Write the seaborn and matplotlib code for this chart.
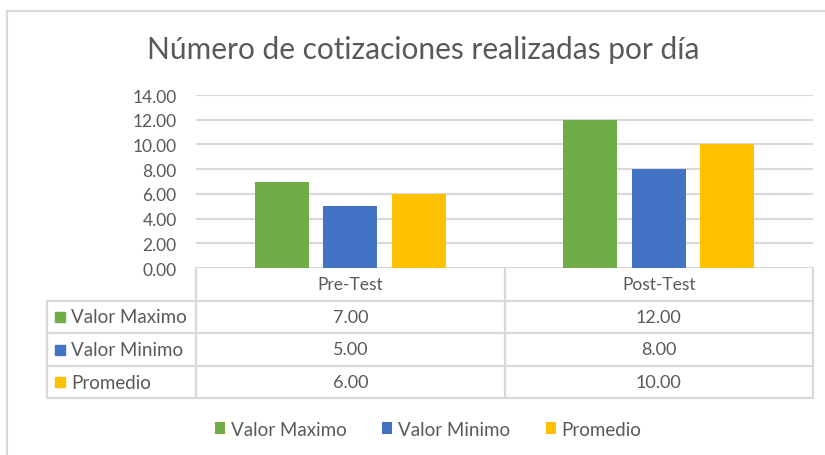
import pandas as pd
import matplotlib
matplotlib.use("Agg")
import matplotlib.pyplot as plt
import seaborn as sns
from matplotlib.lines import Line2D
from matplotlib.patches import Rectangle

# data
CATEGORIES = ["Pre-Test", "Post-Test"]
SERIES = ["Valor Maximo", "Valor Minimo", "Promedio"]
VALOR_MAXIMO = [7.00, 12.00]
VALOR_MINIMO = [5.00, 8.00]
PROMEDIO = [6.00, 10.00]
Y_TICKS = [0, 2, 4, 6, 8, 10, 12, 14]
TITLE = "Número de cotizaciones realizadas por día"

COLORS = ["#70AD47", "#4472C4", "#FFC000"]
TEXT = "#595959"
LINE = "#D9D9D9"

W, H = 825, 456


def fx(px):
    return px / W


def fy(py):
    return 1 - py / H


values = {"Valor Maximo": VALOR_MAXIMO, "Valor Minimo": VALOR_MINIMO, "Promedio": PROMEDIO}
df = pd.DataFrame(
    [{"cat": c, "serie": s, "val": values[s][i]}
     for s in SERIES for i, c in enumerate(CATEGORIES)]
)

sns.set_theme(style="white")
plt.rcParams["font.family"] = ["Lato", "DejaVu Sans"]

fig = plt.figure(figsize=(W / 100, H / 100), dpi=100)

# outer chart border
fig.add_artist(Rectangle((fx(7), fy(470)), fx(830), fy(12) - fy(470),
                         transform=fig.transFigure, fill=False,
                         edgecolor=LINE, lw=1.5))

ax_l, ax_r, ax_t, ax_b = 196, 813, 96, 269
ax = fig.add_axes([fx(ax_l), fy(ax_b), fx(ax_r - ax_l), fy(ax_t) - fy(ax_b)])

sns.barplot(data=df, x="cat", y="val", hue="serie", order=CATEGORIES,
            hue_order=SERIES, palette=COLORS, saturation=1, width=0.667,
            gap=0.21, linewidth=0, ax=ax)

ax.set_ylim(0, 14)
ax.set_xlim(-0.5, 1.5)
ax.set_yticks(Y_TICKS)
ax.set_yticklabels([f"{t:.2f}" for t in Y_TICKS], color=TEXT, fontsize=12.5)
ax.tick_params(axis="y", length=0, pad=14)
ax.set_xticks([])
ax.set_xlabel("")
ax.set_ylabel("")
ax.yaxis.grid(True, color=LINE, lw=1.5)
ax.set_axisbelow(True)
for sp in ax.spines.values():
    sp.set_visible(False)

handles, labels = ax.get_legend_handles_labels()
ax.get_legend().remove()

fig.text(fx(423), fy(50), TITLE, ha="center", va="center", fontsize=21.5,
         color=TEXT)

# data table under the axis
row_h = 32.6
lab_l = 47
col_x = [ax_l, 504.5, ax_r]
rows_y = [ax_b + row_h * k for k in range(5)]


def hline(x0, x1, y):
    fig.add_artist(Line2D([fx(x0), fx(x1)], [fy(y), fy(y)], color=LINE, lw=1.6,
                          transform=fig.transFigure))


def vline(x, y0, y1):
    fig.add_artist(Line2D([fx(x), fx(x)], [fy(y0), fy(y1)], color=LINE, lw=1.6,
                          transform=fig.transFigure))


for y in rows_y[1:]:
    hline(lab_l, ax_r, y)
for x in col_x:
    vline(x, rows_y[0], rows_y[-1])
vline(lab_l, rows_y[1], rows_y[-1])

for j, c in enumerate(CATEGORIES):
    cx = (col_x[j] + col_x[j + 1]) / 2
    fig.text(fx(cx), fy(rows_y[0] + row_h / 2), c, ha="center", va="center",
             fontsize=12.5, color=TEXT)

for i, s in enumerate(SERIES):
    yc = rows_y[i + 1] + row_h / 2
    fig.add_artist(Rectangle((fx(55), fy(yc + 5)), fx(10), fy(yc - 5) - fy(yc + 5),
                             transform=fig.transFigure, color=COLORS[i]))
    fig.text(fx(71), fy(yc), s, ha="left", va="center", fontsize=13.5, color=TEXT)
    for j in range(len(CATEGORIES)):
        cx = (col_x[j] + col_x[j + 1]) / 2
        fig.text(fx(cx), fy(yc), f"{values[s][j]:.2f}", ha="center", va="center",
                 fontsize=13, color=TEXT)

fig.legend(handles, labels, loc="center", bbox_to_anchor=(fx(428), fy(430)),
           ncol=3, frameon=False, fontsize=13.5, labelcolor=TEXT,
           handlelength=0.55, handleheight=0.55, handletextpad=0.3,
           columnspacing=1.9)

fig.savefig("out.png", dpi=100)
